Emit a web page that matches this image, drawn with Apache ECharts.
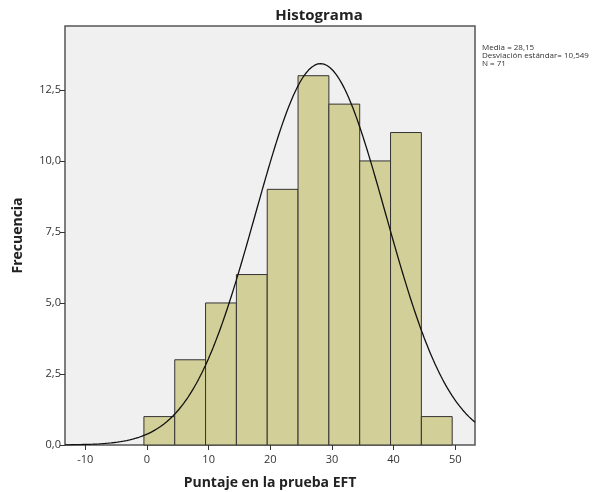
<!DOCTYPE html>
<html>
<head>
<meta charset="utf-8">
<script src="https://cdn.jsdelivr.net/npm/echarts@6/dist/echarts.min.js"></script>
<style>
  html, body { margin: 0; padding: 0; background: #ffffff; }
  #chart { width: 598px; height: 492px; }
</style>
</head>
<body>
<div id="chart"></div>
<script>
// Histogram bins (score intervals) and their frequencies
const binLower = [-0.5, 4.5, 9.5, 14.5, 19.5, 24.5, 29.5, 34.5, 39.5, 44.5];
const binUpper = [4.5, 9.5, 14.5, 19.5, 24.5, 29.5, 34.5, 39.5, 44.5, 49.5];
const frequencies = [1, 3, 5, 6, 9, 13, 12, 10, 11, 1];

// Summary statistics shown beside the plot
const mean = 28.15;
const stdDev = 10.549;
const n = 71;

// Axis tick labels
const xTicks = [-10, 0, 10, 20, 30, 40, 50];
const yTicks = [0, 2.5, 5, 7.5, 10, 12.5];

const xMin = -13.3, xMax = 53.2;
const binWidth = 5;

// Fitted normal curve, scaled to frequency units (N * bin width * density)
const curve = [];
for (let x = xMin; x <= xMax + 0.001; x += 0.25) {
  const z = (x - mean) / stdDev;
  const y = n * binWidth * Math.exp(-0.5 * z * z) / (stdDev * Math.sqrt(2 * Math.PI));
  curve.push([x, y]);
}

const bins = binLower.map((lo, i) => [lo, binUpper[i], frequencies[i]]);

const fmt = v => (Math.round(v * 10) / 10).toFixed(1).replace('.', ',');

const chart = echarts.init(document.getElementById('chart'), null, { renderer: 'canvas' });
chart.setOption({
  animation: false,
  backgroundColor: '#ffffff',
  title: {
    text: 'Histograma',
    left: 314, top: 3, textAlign: 'center',
    textStyle: { fontFamily: 'Open Sans', fontWeight: 'bold', fontSize: 15, color: '#222' }
  },
  grid: {
    left: 65, top: 26, width: 410, height: 419,
    outerBoundsMode: 'none', containLabel: false,
    show: true, backgroundColor: '#f0f0f0', borderColor: '#555', borderWidth: 1.5
  },
  xAxis: {
    type: 'value', min: xMin, max: xMax,
    name: 'Puntaje en la prueba EFT', nameLocation: 'middle', nameGap: 31,
    nameTextStyle: { fontFamily: 'Open Sans', fontWeight: 'bold', fontSize: 14, color: '#222' },
    axisLine: { show: false, onZero: false },
    axisTick: { show: true, length: 5, lineStyle: { color: '#333' }, customValues: xTicks },
    axisLabel: { customValues: xTicks, fontFamily: 'Open Sans', fontSize: 11, color: '#333', margin: 9 },
    splitLine: { show: false }
  },
  yAxis: {
    type: 'value', min: 0, max: 14.75,
    name: 'Frecuencia', nameLocation: 'middle', nameGap: 40, nameRotate: 90,
    nameTextStyle: { fontFamily: 'Open Sans', fontWeight: 'bold', fontSize: 14, color: '#222' },
    axisLine: { show: false, onZero: false },
    axisTick: { show: true, length: 5, lineStyle: { color: '#333' }, customValues: yTicks },
    axisLabel: { customValues: yTicks, formatter: fmt, fontFamily: 'Open Sans', fontSize: 11, color: '#333', margin: 4 },
    splitLine: { show: false }
  },
  graphic: [{
    type: 'text', left: 482, top: 44,
    style: {
      text: 'Media = ' + String(mean).replace('.', ',') +
            '\nDesviación estándar= ' + String(stdDev).replace('.', ',') +
            '\nN = ' + n,
      font: '8px "Open Sans"', fill: '#333', lineHeight: 8
    }
  }],
  series: [{
    type: 'custom',
    data: bins,
    encode: { x: [0, 1], y: 2 },
    renderItem: (params, api) => {
      const p0 = api.coord([api.value(0), 0]);
      const p1 = api.coord([api.value(1), api.value(2)]);
      return {
        type: 'rect',
        shape: { x: p0[0], y: p1[1], width: p1[0] - p0[0], height: p0[1] - p1[1] },
        style: { fill: '#d3cf98', stroke: '#333', lineWidth: 1 }
      };
    },
    z: 2
  }, {
    type: 'line',
    data: curve,
    showSymbol: false,
    smooth: false,
    lineStyle: { color: '#111', width: 1.3 },
    clip: true,
    z: 3
  }]
});
</script>
</body>
</html>
